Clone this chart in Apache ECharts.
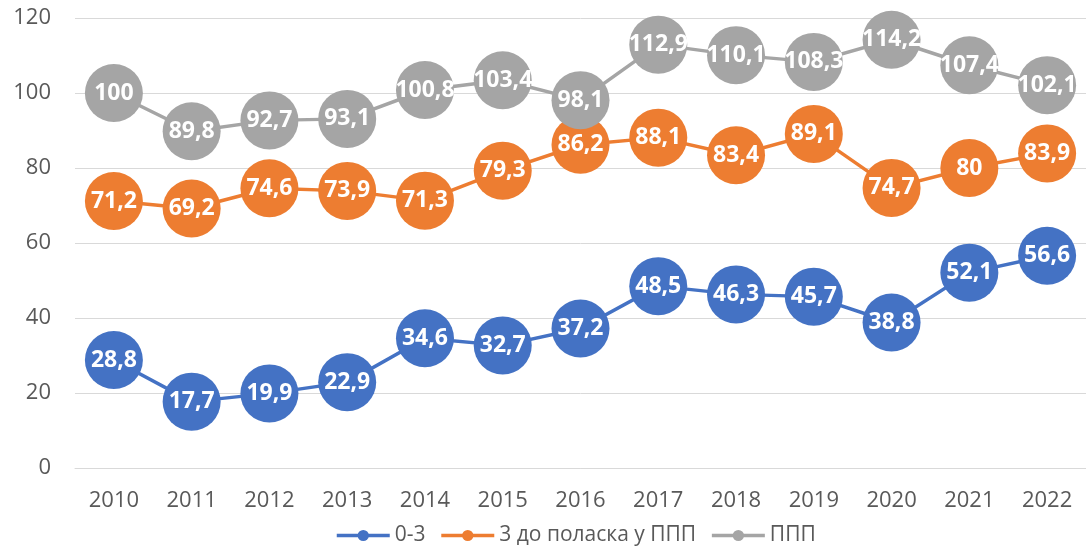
<!DOCTYPE html>
<html><head><meta charset="utf-8">
<script src="https://cdn.jsdelivr.net/npm/echarts@6/dist/echarts.min.js"></script>
<style>html,body{margin:0;padding:0;background:#fff}#c{width:1086px;height:548px}</style>
</head><body><div id="c"></div>
<script>
const categories = ['2010','2011','2012','2013','2014','2015','2016','2017','2018','2019','2020','2021','2022'];
const seriesNames = ['0-3','3 до поласка у ППП','ППП'];
const s03 = [28.8,17.7,19.9,22.9,34.6,32.7,37.2,48.5,46.3,45.7,38.8,52.1,56.6];
const s3ppp = [71.2,69.2,74.6,73.9,71.3,79.3,86.2,88.1,83.4,89.1,74.7,80,83.9];
const sppp = [100,89.8,92.7,93.1,100.8,103.4,98.1,112.9,110.1,108.3,114.2,107.4,102.1];
const colors = ['#4472C4','#ED7D31','#A5A5A5'];
const font = '"Open Sans", "Noto Sans", sans-serif';
function mk(name, data, color){
  return {
    name, type:'line', data, symbol:'circle', symbolSize:58,
    lineStyle:{color, width:3.5}, itemStyle:{color},
    label:{show:true, position:'inside', color:'#fff', fontFamily:font, fontWeight:'bold', fontSize:23,
      formatter:p=>String(p.value).replace('.',',')},
    emphasis:{disabled:true}, z:2
  };
}
const chart = echarts.init(document.getElementById('c'));
chart.setOption({
  animation:false,
  color:colors,
  grid:{left:75, top:18, bottom:80, width:1021},
  xAxis:{type:'category', data:categories, boundaryGap:true,
    axisLine:{show:true, lineStyle:{color:'#D9D9D9', width:1}}, axisTick:{show:false},
    axisLabel:{color:'#595959', fontFamily:font, fontSize:22, margin:22}},
  yAxis:{type:'value', min:0, max:120, interval:20,
    axisLine:{show:false}, axisTick:{show:false},
    splitLine:{lineStyle:{color:'#D9D9D9', width:1}},
    axisLabel:{color:'#595959', fontFamily:font, fontSize:22, margin:24}},
  legend:{top:520, left:330, itemWidth:53, itemHeight:14, itemGap:14,
    itemStyle:{borderWidth:0},
    lineStyle:{width:3.5},
    textStyle:{color:'#595959', fontFamily:font, fontSize:21}},
  series:[mk(seriesNames[0], s03, colors[0]), mk(seriesNames[1], s3ppp, colors[1]), mk(seriesNames[2], sppp, colors[2])]
});
</script></body></html>
